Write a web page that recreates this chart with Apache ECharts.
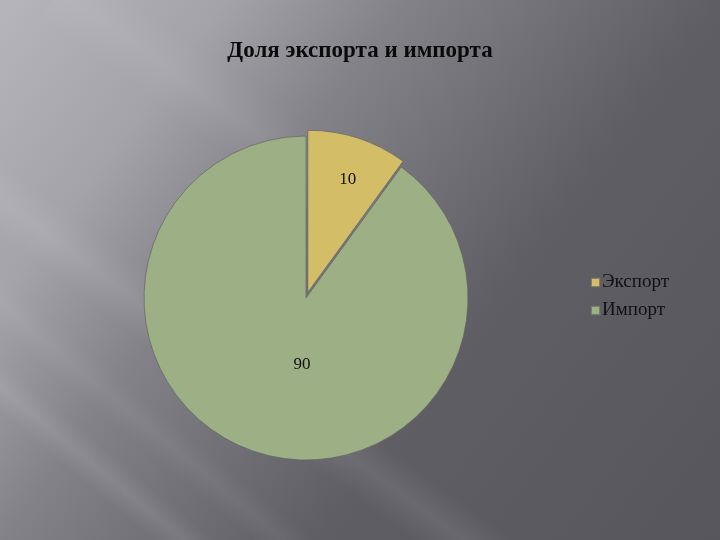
<!DOCTYPE html>
<html>
<head>
<meta charset="utf-8">
<script src="https://cdn.jsdelivr.net/npm/echarts@6/dist/echarts.min.js"></script>
<style>html,body{margin:0;padding:0;background:#6e6d73;}#c{width:720px;height:540px;}</style>
</head>
<body>
<div id="c"></div>
<script>
const titleText = 'Доля экспорта и импорта';
const categories = ['Экспорт', 'Импорт'];
const values = [10, 90];
const colors = ['#d3bd66', '#9caf85'];

const chart = echarts.init(document.getElementById('c'));
const serif = '"Liberation Serif", "DejaVu Serif", serif';

function streak(x1, y1, x2, y2, w, op) {
  const dx = x2 - x1, dy = y2 - y1, len = Math.hypot(dx, dy);
  const nx = -dy / len * w / 2, ny = dx / len * w / 2;
  return {
    type: 'polygon', silent: true, z: -9,
    shape: { points: [[x1 + nx, y1 + ny], [x2 + nx, y2 + ny], [x2 - nx, y2 - ny], [x1 - nx, y1 - ny]] },
    style: { fill: new echarts.graphic.LinearGradient(x1 + nx, y1 + ny, x1 - nx, y1 - ny, [
      { offset: 0, color: 'rgba(255,255,255,0)' },
      { offset: 0.5, color: 'rgba(255,255,255,' + op + ')' },
      { offset: 1, color: 'rgba(255,255,255,0)' }], true) }
  };
}

const labelOffsets = [[14, -33], [22, -13]];

chart.setOption({
  backgroundColor: '#68676d',
  graphic: [
    { type: 'rect', silent: true, z: -10, shape: { x: 0, y: 0, width: 720, height: 540 },
      style: { fill: new echarts.graphic.LinearGradient(0, 0, 1, 1, [
        { offset: 0, color: '#b6b5bb' },
        { offset: 0.2, color: '#a4a3a9' },
        { offset: 0.36, color: '#838288' },
        { offset: 0.64, color: '#5f5e64' },
        { offset: 1, color: '#57565c' }]) } },
    streak(-40, 170, 600, 640, 60, 0.08),
    streak(-20, 370, 280, 620, 40, 0.09),
    streak(60, -10, 420, 250, 70, 0.06),
    streak(-40, 270, 380, 620, 40, 0.05)
  ],
  title: {
    text: titleText, left: 'center', top: 35,
    textStyle: { fontFamily: serif, fontWeight: 'bold', fontSize: 23, color: '#0a0a0a' }
  },
  legend: {
    orient: 'vertical', left: 585, top: 268, itemGap: 9,
    itemWidth: 9, itemHeight: 9, icon: 'rect',
    data: categories,
    textStyle: { fontFamily: serif, fontSize: 19, color: '#111', padding: [0, 0, 0, -3] }
  },
  series: [{
    type: 'pie',
    center: [306, 298],
    radius: 162,
    startAngle: 90,
    clockwise: true,
    selectedMode: 'multiple',
    selectedOffset: 6,
    animation: false,
    itemStyle: { borderColor: 'rgba(100,100,100,0.7)', borderWidth: 1 },
    label: {
      show: true, position: 'inside', formatter: '{c}',
      fontFamily: serif, fontSize: 17, color: '#111'
    },
    labelLine: { show: false },
    emphasis: { scale: false },
    data: categories.map((name, i) => ({
      name: name, value: values[i], selected: i === 0,
      itemStyle: { color: colors[i] },
      label: { offset: labelOffsets[i] },
      select: { label: { offset: labelOffsets[i] } }
    }))
  }]
});
</script>
</body>
</html>
